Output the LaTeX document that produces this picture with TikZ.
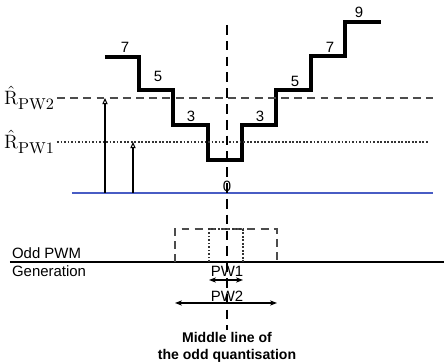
\documentclass[tikz,border=0pt]{standalone}
\usepackage{amsmath}
\usepackage{fontspec}
\setsansfont{Liberation Sans}
\usepackage{tikz}
\usetikzlibrary{arrows.meta,positioning,calc}
\definecolor{axisblue}{RGB}{72,92,196}
\newcommand{\Rhat}[1]{$\hat{\mathrm{R}}_{\mbox{\fontsize{9}{10}\selectfont\rmfamily #1}}$}

\begin{document}
\begin{tikzpicture}[x=0.02cm,y=-0.02cm,
 font=\sffamily\fontsize{8.5}{10}\selectfont,
 stair/.style={line width=2pt,line join=miter},
 lvl/.style={inner sep=1pt},
 mid/.style={dash pattern=on 5.5pt off 3.5pt,line width=0.6pt},
 refA/.style={dash pattern=on 4.5pt off 3pt,draw=black!70,line width=0.6pt},
 refB/.style={dash pattern=on 1pt off 1pt,draw=black!80,line width=0.6pt},
 lev/.style={-{Triangle[open,length=3.5pt,width=3pt]},line width=0.6pt},
 pw/.style={{Stealth[length=4pt,width=3pt]}-{Stealth[length=4pt,width=3pt]},line width=0.6pt}]
\useasboundingbox (0,0) rectangle (444,364);

% staircase of the odd levels
\coordinate (s0) at (105,57);
\draw[stair] (s0) -| (139,90) -| (173,125) -| (208,160) -| (242,125)
 -| (276,90) -| (311,56) -| (345,22) -- (381,22);
\node[lvl] (n7a) at (125,47) {7};
\node[lvl] (n5a) at (158,76) {5};
\node[lvl] (n3a) at (191,116) {3};
\node[lvl] (n3b) at (260,116) {3};
\node[lvl] (n5b) at (295,81) {5};
\node[lvl] (n7b) at (330,47) {7};
\node[lvl] (n9) at (359,12) {9};

% thresholds and zero line
\node[lvl,anchor=east,font=\fontsize{11}{13}\selectfont] (lR2) at (57,98) {\Rhat{PW2}};
\node[lvl,anchor=east,font=\fontsize{11}{13}\selectfont] (lR1) at (57,142) {\Rhat{PW1}};
\coordinate (r2e) at (433,98);
\coordinate (r1e) at (428,142);
\draw[refA] (lR2.east) -- (r2e);
\draw[refB] (lR1.east) -- (r1e);
\coordinate (z0) at (72,193);
\coordinate (z1) at (433,193);
\draw[draw=axisblue,line width=1.2pt] (z0) -- (z1);
\node[lvl] (zero) at (227,186) {0};

\coordinate (a2b) at (105,193); \coordinate (a2t) at (105,98);
\coordinate (a1b) at (133,193); \coordinate (a1t) at (133,142);
\draw[lev] (a2b) -- (a2t);
\draw[lev] (a1b) -- (a1t);

% middle line
\coordinate (mtop) at (227,25);
\coordinate (mbot) at (227,330);
\draw[mid] (mtop) -- (mbot);

% odd PWM generation
\node[lvl,anchor=west] (lodd) at (10,253) {Odd PWM};
\node[lvl,anchor=west] (lgen) at (10,271) {Generation};
\coordinate (g0) at (10,262);
\coordinate (g1) at (444,262);
\draw[line width=0.9pt] (g0) -- (g1);
\draw[refA] (175,262) |- (277,229) -- (277,262);
\draw[refB,line width=0.9pt] (209,262) |- (243,229) -- (243,262);

\node[lvl] (lpw1) at (227,271) {PW1};
\coordinate (p1l) at (209,280); \coordinate (p1r) at (243,280);
\draw[pw] (p1l) -- (p1r);
\node[lvl] (lpw2) at (227,296) {PW2};
\coordinate (p2l) at (175,303); \coordinate (p2r) at (277,303);
\draw[pw] (p2l) -- (p2r);

\node[lvl,font=\sffamily\bfseries\fontsize{8}{9.6}\selectfont,align=center] (lmid) at (227,347)
 {Middle line of\\the odd quantisation};
\end{tikzpicture}
\end{document}
